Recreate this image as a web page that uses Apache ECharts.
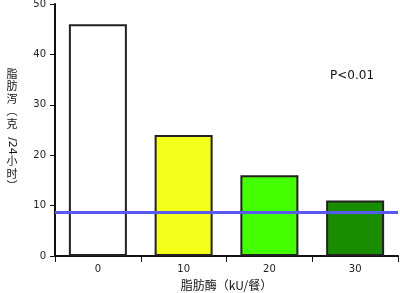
<!DOCTYPE html>
<html><head><meta charset="utf-8">
<script src="https://cdn.jsdelivr.net/npm/echarts@6/dist/echarts.min.js"></script>
<style>html,body{margin:0;padding:0;background:#fff}#c{width:400px;height:293px}</style>
</head><body><div id="c"></div>
<script>
const categories = ['0', '10', '20', '30'];
const values = [46, 24, 16, 11];
const barColors = ['#ffffff', '#f4ff1a', '#44ff00', '#1a8c00'];
const refLine = 8.7;
const yTicks = [0, 10, 20, 30, 40, 50];

const chart = echarts.init(document.getElementById('c'), null, {renderer: 'canvas'});
const cjk = '"Noto Sans CJK SC", sans-serif';
const lat = '"DejaVu Sans", sans-serif';
chart.setOption({
  animation: false,
  backgroundColor: '#fff',
  grid: {left: 55, right: 2, top: 4, bottom: 37, containLabel: false, outerBoundsMode: 'none'},
  xAxis: {
    type: 'category', data: categories,
    axisLine: {lineStyle: {color: '#111', width: 2}},
    axisTick: {show: true, length: 6, interval: 0, lineStyle: {color: '#111', width: 1}},
    axisLabel: {color: '#222', fontFamily: lat, fontSize: 10, margin: 8},
    name: '脂肪酶（kU/餐）', nameLocation: 'middle', nameGap: 23,
    nameTextStyle: {color: '#111', fontFamily: cjk, fontSize: 12}
  },
  yAxis: {
    type: 'value', min: yTicks[0], max: yTicks[yTicks.length - 1], interval: 10,
    axisLine: {show: true, lineStyle: {color: '#111', width: 2}},
    axisTick: {show: true, length: 5, lineStyle: {color: '#111', width: 1}},
    splitLine: {show: false},
    axisLabel: {color: '#222', fontFamily: lat, fontSize: 10, margin: 9},
    name: '脂\n肪\n泻\n︵\n克\n \n \n小\n时\n︶', nameLocation: 'middle', nameRotate: 0, nameGap: 43,
    nameTextStyle: {color: '#111', fontFamily: cjk, fontSize: 11, lineHeight: 12.5, align: 'center', verticalAlign: 'middle', padding: [4, 0, 0, 0]}
  },
  series: [{
    type: 'bar', barWidth: 58,
    data: values.map((v, i) => ({value: v, itemStyle: {color: barColors[i], borderColor: '#222', borderWidth: 2}})),
    markLine: {
      silent: true, symbol: ['none', 'none'], label: {show: false},
      lineStyle: {color: '#5a5af0', width: 3, type: 'solid'},
      data: [{yAxis: refLine}]
    }
  }],
  graphic: [
    {type: 'text', x: 330, y: 70, style: {text: 'P<0.01', fill: '#111', font: '12px "DejaVu Sans", sans-serif'}},
    {type: 'text', x: 12, y: 146, rotation: -Math.PI / 2,
     style: {text: '/24', fill: '#111', font: '11px "DejaVu Sans", sans-serif', textAlign: 'center', textVerticalAlign: 'middle'}}
  ]
});
</script></body></html>
